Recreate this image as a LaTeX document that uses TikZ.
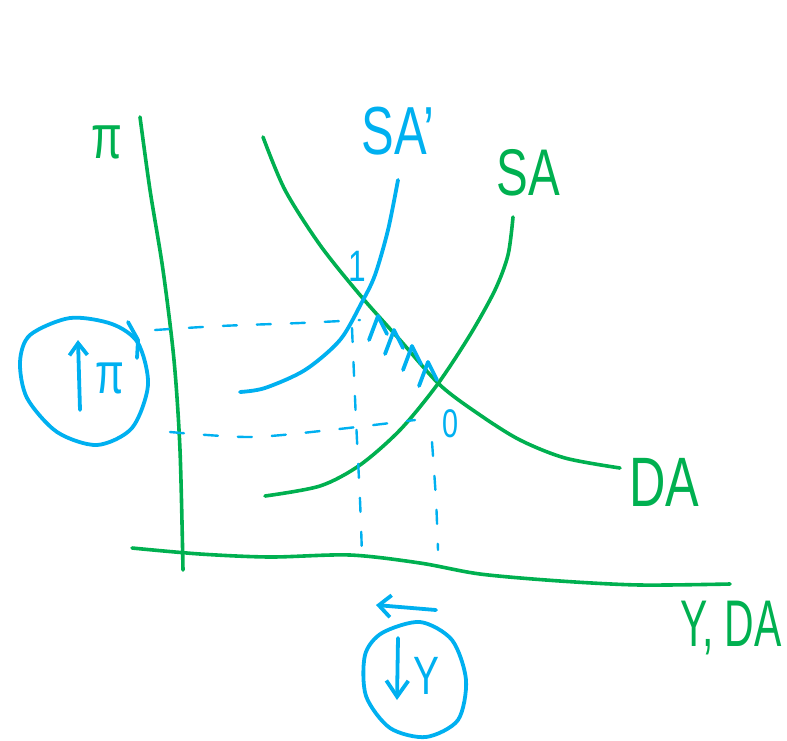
\documentclass[tikz,border=0pt]{standalone}
\usepackage{fontspec}
\usepackage{graphicx}
\setmainfont{Liberation Sans}
\usetikzlibrary{arrows.meta}
\definecolor{hgreen}{RGB}{0,176,80}
\definecolor{hblue}{RGB}{0,176,240}
\tikzset{
  gline/.style={draw=hgreen, line width=3.6pt, line cap=round, line join=round},
  bline/.style={draw=hblue, line width=3.8pt, line cap=round, line join=round},
  bdash/.style={draw=hblue, line width=2.4pt, line cap=round, dash pattern=on 14pt off 20pt},
  glabel/.style={text=hgreen, inner sep=0pt},
  blabel/.style={text=hblue, inner sep=0pt},
}
\newcommand{\hw}[2]{\fontsize{#1}{#1}\selectfont\scalebox{0.72}[1]{#2}}
\newcommand{\hwn}[2]{\fontsize{#1}{#1}\selectfont\scalebox{0.62}[1]{#2}}
\begin{document}
\begin{tikzpicture}[x=1pt,y=-1pt]
\useasboundingbox (0,0) rectangle (787,740);
% axes
\draw[gline] plot[smooth] coordinates {(140,117) (150,190) (163,270) (174,360) (180,450) (183,570)};
\draw[gline] plot[smooth] coordinates {(132,548) (200,554) (270,557) (350,555) (420,563) (480,574) (560,581) (640,585) (730,584)};
% DA
\draw[gline] plot[smooth] coordinates {(263,137) (285,190) (320,245) (360,295) (400,340) (440,385) (480,415) (520,440) (565,458) (620,468)};
% SA
\draw[gline] plot[smooth] coordinates {(513,217) (508,255) (495,290) (470,335) (437,385) (400,430) (360,465) (320,486) (265,496)};
% SA'
\draw[bline] plot[smooth] coordinates {(398,180) (388,230) (375,275) (362,302) (340,340) (305,370) (265,388) (240,392)};
% dashed guides
\draw[bdash] plot[smooth] coordinates {(155,330) (220,326) (300,323) (360,320)};
\draw[bdash] plot[smooth] coordinates {(170,432) (250,437) (330,430) (415,420)};
\draw[bdash] plot[smooth] coordinates {(352,328) (356,420) (360,500) (362,555)};
\draw[bdash] plot[smooth] coordinates {(432,442) (436,500) (438,550)};
% movement marks along DA
\foreach \px/\py in {378/316, 394/330, 412/346, 428/362}{
  \draw[bline] (\px-9,\py+24) -- (\px,\py) -- (\px+9,\py+18);
}
% labels
\node[glabel] (pi) at (107,142) {\hw{62pt}{π}};
\node[blabel] (sap) at (398,131) {\hw{68pt}{SA'}};
\node[glabel] (sa) at (528,173) {\hw{66pt}{SA}};
\node[glabel] (da) at (664,482) {\hw{70pt}{DA}};
\node[glabel] (yda) at (731,628) {\hwn{66pt}{Y, DA}};
\node[blabel] (one) at (357,266) {\hw{44pt}{1}};
\node[blabel] (zero) at (451,424) {\hw{40pt}{0}};
% circled up pi
\draw[bline] plot[smooth cycle] coordinates {(30,335) (70,318) (112,324) (138,343) (148,385) (132,428) (97,445) (57,432) (27,398) (20,362)};
\draw[bline] (128,322) -- (138,340) -- (137,358);
\coordinate (ua1) at (80,410);
\coordinate (ua2) at (78,340);
\draw[bline, -{Straight Barb[length=12pt,width=18pt]}] (ua1) -- (ua2);
\node[blabel] (pic) at (110,378) {\hw{58pt}{π}};
% circled down Y
\draw[bline] plot[smooth cycle] coordinates {(382,633) (420,622) (452,640) (466,680) (458,720) (426,737) (390,728) (366,696) (365,655)};
\coordinate (da1) at (398,638);
\coordinate (da2) at (397,700);
\draw[bline, -{Straight Barb[length=16pt,width=22pt]}] (da1) -- (da2);
\node[blabel] (yc) at (426,676) {\hw{54pt}{Y}};
\coordinate (la1) at (436,610);
\coordinate (la2) at (376,605);
\draw[bline, -{Straight Barb[length=12pt,width=22pt]}] (la1) -- (la2);
\end{tikzpicture}
\end{document}
